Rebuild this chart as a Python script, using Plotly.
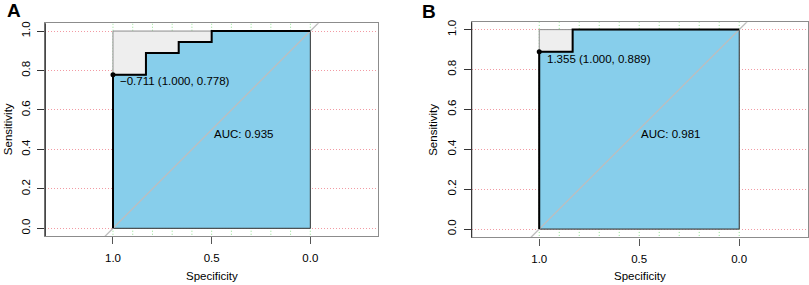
import plotly.graph_objects as go

# ---- data ----
panels = ["A", "B"]
spec_A = [1.0, 1.0, 0.833, 0.833, 0.667, 0.667, 0.5, 0.5, 0.0]
sens_A = [0.0, 0.778, 0.778, 0.889, 0.889, 0.944, 0.944, 1.0, 1.0]
spec_B = [1.0, 1.0, 0.833, 0.833, 0.0]
sens_B = [0.0, 0.889, 0.889, 1.0, 1.0]
auc_values = [0.935, 0.981]
thr_values = [-0.711, 1.355]
thr_spec = [1.000, 1.000]
thr_sens = [0.778, 0.889]
x_ticks = [1.0, 0.5, 0.0]
y_ticks = [0.0, 0.2, 0.4, 0.6, 0.8, 1.0]
v_grid = [1.0, 0.9, 0.8, 0.7, 0.6, 0.5, 0.4, 0.3, 0.2, 0.1, 0.0]
x_title = "Specificity"
y_title = "Sensitivity"

FONT = "Liberation Sans, Arial, Helvetica, sans-serif"
SKY = "#87CEEB"
MAXCOL = "#EEEEEE"
W, H = 809, 285

fig = go.Figure()

domains = [
    dict(x=[0.056, 0.467], y=[0.172, 0.918]),
    dict(x=[0.583, 0.999], y=[0.167, 0.922]),
]
xranges = [[1.343, -0.342], [1.338, -0.345]]
yranges = [[-0.039, 1.039], [-0.042, 1.037]]
curves = [(spec_A, sens_A), (spec_B, sens_B)]
thr_shift = [(5, -6), (6, -7.5)]
label_pos = [(13.5 / W, 1 - 10.5 / H), (429 / W, 1 - 11 / H)]
ytitle_x = [7.5 / W, 433 / W]
xtitle_y = 1 - 276 / H

for i in range(2):
    xa = "x" if i == 0 else "x2"
    ya = "y" if i == 0 else "y2"
    spec, sens = curves[i]

    # vertical green dotted grid
    gx, gy = [], []
    for v in v_grid:
        gx += [v, v, None]
        gy += [-0.2, 1.2, None]
    fig.add_trace(go.Scatter(x=gx, y=gy, mode="lines", xaxis=xa, yaxis=ya,
                             line=dict(color="#8EE08E", width=1, dash="1px,2px"),
                             hoverinfo="skip", showlegend=False))

    # max AUC polygon (square)
    sx = [min(spec), max(spec)]
    fig.add_trace(go.Scatter(x=[sx[1], sx[1], sx[0], sx[0], sx[1]],
                             y=[0, 1, 1, 0, 0], mode="lines", fill="toself",
                             fillcolor=MAXCOL, xaxis=xa, yaxis=ya,
                             line=dict(color="#8C8C8C", width=1),
                             hoverinfo="skip", showlegend=False))
    # AUC polygon
    fig.add_trace(go.Scatter(x=spec + [spec[-1], spec[0]],
                             y=sens + [0, 0], mode="lines", fill="toself",
                             fillcolor=SKY, xaxis=xa, yaxis=ya,
                             line=dict(color="#3A3A3A", width=1),
                             hoverinfo="skip", showlegend=False))
    # identity line
    fig.add_trace(go.Scatter(x=[1.5, -0.5], y=[-0.5, 1.5], mode="lines",
                             xaxis=xa, yaxis=ya,
                             line=dict(color="#BDBDBD", width=1.3),
                             hoverinfo="skip", showlegend=False))
    # ROC curve
    fig.add_trace(go.Scatter(x=spec, y=sens, mode="lines", xaxis=xa, yaxis=ya,
                             line=dict(color="black", width=2),
                             hoverinfo="skip", showlegend=False))
    # threshold point
    fig.add_trace(go.Scatter(x=[thr_spec[i]], y=[thr_sens[i]], mode="markers",
                             xaxis=xa, yaxis=ya, cliponaxis=False,
                             marker=dict(color="black", size=5),
                             hoverinfo="skip", showlegend=False))

    thr_txt = f"{thr_values[i]:.3f} ({thr_spec[i]:.3f}, {thr_sens[i]:.3f})".replace("-", "\u2212")
    fig.add_annotation(x=thr_spec[i], y=thr_sens[i], xref=xa, yref=ya,
                       text=thr_txt, showarrow=False, xanchor="left",
                       yanchor="middle", xshift=thr_shift[i][0],
                       yshift=thr_shift[i][1],
                       font=dict(size=11.5, color="black", family=FONT))
    fig.add_annotation(x=0.5, y=0.5, xref=xa, yref=ya,
                       text=f"AUC: {auc_values[i]:.3f}", showarrow=False,
                       xanchor="left", yanchor="middle", yshift=-4.5,
                       font=dict(size=11.5, color="black", family=FONT))
    fig.add_annotation(x=label_pos[i][0], y=label_pos[i][1], xref="paper",
                       yref="paper", text=f"<b>{panels[i]}</b>", showarrow=False,
                       xanchor="center", yanchor="middle",
                       font=dict(size=19, color="black", family=FONT))
    # axis titles
    dx = domains[i]["x"]
    dy = domains[i]["y"]
    fig.add_annotation(x=(dx[0] + dx[1]) / 2, y=xtitle_y, xref="paper", yref="paper",
                       text=x_title, showarrow=False, xanchor="center", yanchor="middle",
                       font=dict(size=11.5, color="black", family=FONT))
    fig.add_annotation(x=ytitle_x[i], y=(dy[0] + dy[1]) / 2, xref="paper", yref="paper",
                       text=y_title, showarrow=False, xanchor="center", yanchor="middle",
                       textangle=-90,
                       font=dict(size=11.5, color="black", family=FONT))

    # darker left axis line
    fig.add_shape(type="line", xref=f"{xa} domain", yref=f"{ya} domain",
                  x0=0, x1=0, y0=0, y1=1, line=dict(color="#333333", width=1.2))

    xkey = "xaxis" if i == 0 else "xaxis2"
    ykey = "yaxis" if i == 0 else "yaxis2"
    fig.update_layout(**{
        xkey: dict(domain=dx, range=xranges[i], anchor=ya, automargin=False,
                   tickvals=x_ticks, ticktext=[f"{v:.1f}" for v in x_ticks],
                   ticks="outside", ticklen=7, tickcolor="#555555",
                   showline=True, mirror=True, linecolor="#8C8C8C", linewidth=1.2,
                   showgrid=False, zeroline=False, ticklabelstandoff=4,
                   tickfont=dict(size=11.5, family=FONT, color="black")),
        ykey: dict(domain=dy, range=yranges[i], anchor=xa, automargin=False,
                   tickvals=y_ticks, ticktext=[f"{v:.1f}" for v in y_ticks],
                   ticks="outside", ticklen=7, tickcolor="#333333",
                   tickangle=-90, ticklabelstandoff=3,
                   showline=True, mirror=True, linecolor="#8C8C8C", linewidth=1.2,
                   showgrid=True, gridcolor="#F29AA3", griddash="1px,2px", gridwidth=1,
                   zeroline=False,
                   tickfont=dict(size=11.5, family=FONT, color="black")),
    })

fig.update_layout(width=W, height=H, margin=dict(l=0, r=0, t=0, b=0),
                  plot_bgcolor="white", paper_bgcolor="white",
                  font=dict(family=FONT), showlegend=False)

fig.write_html("out.html", config={"displayModeBar": False},
               post_script="document.body.style.margin='0';document.body.style.overflow='hidden';")
